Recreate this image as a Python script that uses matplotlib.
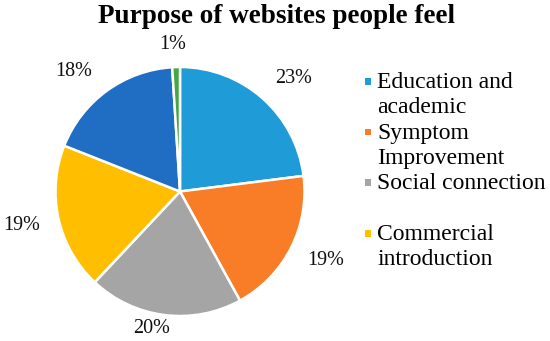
import numpy as np
import matplotlib.pyplot as plt
from matplotlib.patches import Rectangle

plt.rcParams["font.family"] = ["Liberation Serif", "DejaVu Serif"]

# data
categories = ["Education and\nacademic", "Symptom\nImprovement", "Social connection",
              "Commercial\nintroduction", "Other", "Other2"]
values = [23, 19, 20, 19, 18, 1]
colors = ["#1F9BD7", "#F97D26", "#A5A5A5", "#FFBF00", "#1F6EC4", "#43A843"]
legend_n = 4

# label placement (Excel "best fit" style): distance in radii, angle nudge in degrees
label_dist = [1.29, 1.29, 1.12, 1.30, 1.29, 1.18]
label_nudge = [-3.7, 1.7, -4.4, -0.6, 5.6, 0.9]

W, H = 550, 341
fig = plt.figure(figsize=(5.5, 3.41), dpi=100)
fig.patch.set_facecolor("white")

cx, cy, r = 180, 191.5, 124.5
ax = fig.add_axes([(cx - r) / W, 1 - (cy + r) / H, 2 * r / W, 2 * r / H])
wedges, texts, autotexts = ax.pie(
    values,
    colors=colors,
    startangle=90,
    counterclock=False,
    autopct="%1.0f%%",
    pctdistance=1.22,
    wedgeprops=dict(edgecolor="white", linewidth=1.8),
    textprops=dict(fontsize=14.5, color="#111111"),
)
for w, t, d, a in zip(wedges, autotexts, label_dist, label_nudge):
    ang = np.deg2rad((w.theta1 + w.theta2) / 2 + a)
    t.set_position((d * np.cos(ang), d * np.sin(ang)))
ax.set_xlim(-1, 1)
ax.set_ylim(-1, 1)
ax.set_aspect("equal")

fig.text(277 / W, 1 - 23 / H, "Purpose of websites people feel",
         ha="center", va="baseline", fontsize=19.5, fontweight="bold")

# legend drawn by hand so multi-line entries line up like the original
for i in range(legend_n):
    base = 88 + i * 50.7
    for j, line in enumerate(categories[i].split("\n")):
        fig.text(377 / W, 1 - (base + 25 * j) / H, line, ha="left", va="baseline",
                 fontsize=17)
    fig.add_artist(Rectangle((364.5 / W, 1 - (base - 3.5) / H), 6.5 / W, 6.5 / H,
                             transform=fig.transFigure, facecolor=colors[i],
                             edgecolor="none"))

fig.savefig("out.png", dpi=100)
